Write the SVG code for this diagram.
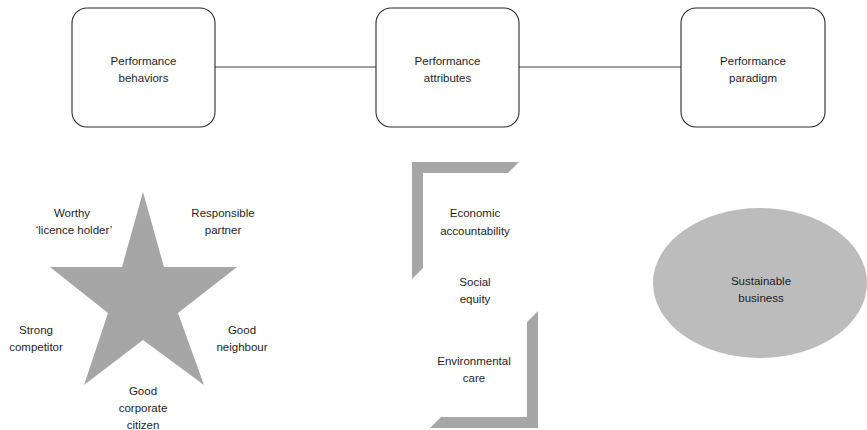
<svg xmlns="http://www.w3.org/2000/svg" width="867" height="430" viewBox="0 0 867 430">
  <style>
    .box { fill: #ffffff; stroke: #2b2b2b; stroke-width: 1.1; }
    .link { stroke: #404040; stroke-width: 1; fill: none; }
    .lbl { font-family: "Liberation Sans", Arial, sans-serif; font-size: 11.5px; fill: #1e1e1e; text-anchor: middle; }
    .shape { fill: #a6a6a6; }
    .oval { fill: #bcbcbc; }
  </style>
  <rect width="867" height="430" fill="#ffffff"/>

  <!-- connectors between the three performance boxes -->
  <g id="connectors">
    <line class="link" x1="215" y1="67" x2="376" y2="67"/>
    <line class="link" x1="519" y1="67" x2="681" y2="67"/>
  </g>

  <g id="box-behaviors">
    <rect class="box" x="72" y="8" width="143" height="119" rx="15" ry="15"/>
    <text class="lbl" x="143.5" y="65">Performance</text>
    <text class="lbl" x="143.5" y="82">behaviors</text>
  </g>

  <g id="box-attributes">
    <rect class="box" x="376" y="8" width="143" height="119" rx="15" ry="15"/>
    <text class="lbl" x="447.5" y="65">Performance</text>
    <text class="lbl" x="447.5" y="82">attributes</text>
  </g>

  <g id="box-paradigm">
    <rect class="box" x="681" y="8" width="144" height="119" rx="15" ry="15"/>
    <text class="lbl" x="753" y="65">Performance</text>
    <text class="lbl" x="753" y="82">paradigm</text>
  </g>

  <!-- five-point star with its behaviour labels -->
  <g id="star">
    <polygon class="shape" points="143,192 164,267 237,267 178,313 204,385 143,340 84,385 108,313 50,267 122,267"/>
    <text class="lbl" x="72" y="217">Worthy</text>
    <text class="lbl" x="74" y="234">‘licence holder’</text>
    <text class="lbl" x="223" y="217">Responsible</text>
    <text class="lbl" x="223" y="234">partner</text>
    <text class="lbl" x="36" y="334">Strong</text>
    <text class="lbl" x="36" y="351">competitor</text>
    <text class="lbl" x="242" y="334">Good</text>
    <text class="lbl" x="242" y="351">neighbour</text>
    <text class="lbl" x="143" y="395">Good</text>
    <text class="lbl" x="143" y="412">corporate</text>
    <text class="lbl" x="143" y="429">citizen</text>
  </g>

  <!-- bracket pair enclosing the three attributes -->
  <g id="attributes">
    <polygon class="shape" points="412,162 519,162 508,173 423,173 423,268 412,279"/>
    <polygon class="shape" points="527,322 538,311 538,428 430,428 441,417 527,417"/>
    <text class="lbl" x="475" y="217">Economic</text>
    <text class="lbl" x="475" y="235">accountability</text>
    <text class="lbl" x="475" y="286">Social</text>
    <text class="lbl" x="475" y="303">equity</text>
    <text class="lbl" x="474" y="365">Environmental</text>
    <text class="lbl" x="474" y="382">care</text>
  </g>

  <g id="sustainable-business">
    <ellipse class="oval" cx="760" cy="283" rx="107" ry="75"/>
    <text class="lbl" x="761" y="285">Sustainable</text>
    <text class="lbl" x="761" y="302">business</text>
  </g>
</svg>
